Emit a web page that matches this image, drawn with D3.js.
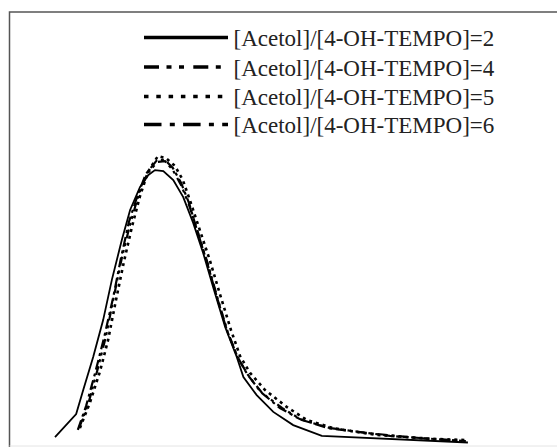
<!DOCTYPE html>
<html lang="en">
  <head>
    <meta charset="UTF-8" />
    <title>Acetol / 4-OH-TEMPO profiles</title>
    <style>
      body { margin: 0; background: white; }
      svg { display: block; }
    </style>
  </head>
  <body>
    <svg></svg>
    <script src="https://d3js.org/d3.v7.min.js"></script>
    <script>
      // values (arbitrary units, no axes shown)
      const labels = [
        "[Acetol]/[4-OH-TEMPO]=2",
        "[Acetol]/[4-OH-TEMPO]=4",
        "[Acetol]/[4-OH-TEMPO]=5",
        "[Acetol]/[4-OH-TEMPO]=6",
      ];

      const x2 = [0, 5.1, 6.8, 9.2, 11.6, 13.7, 16.1, 18.1, 20.5, 22.5, 24.1, 26.1, 28.5, 30.9, 33.3, 35.7, 38.1, 41.0, 43.8, 45.4, 48.6, 52.6, 57.4, 64.3, 99.5];
      const y2 = [3.3, 11, 19, 30, 42.3, 55.7, 69, 79, 86.7, 90.7, 92.3, 92, 89, 83.3, 74.7, 64.7, 53.3, 40, 30, 23.3, 17.3, 11.7, 7.3, 3.7, 1.5];

      const x4 = [5.8, 8.0, 10.1, 12.3, 14.2, 16.1, 18.1, 20.2, 22.2, 24.6, 26.5, 28.4, 30.4, 32.3, 34.5, 36.9, 39.3, 41.7, 44.1, 46.5, 49.9, 54.7, 59.5, 66.3, 73.5, 80.7, 88.0, 95.2, 99.0];
      const y4 = [6.3, 14.3, 25, 37, 50.3, 63, 74.3, 84.3, 91, 95, 95.3, 92.3, 87.3, 80.7, 71.3, 60.7, 49, 38, 29.7, 24, 18, 13, 9, 6.3, 5, 3.7, 3, 2.3, 2];

      const x5 = [6.0, 8.4, 10.8, 12.8, 14.7, 16.6, 18.6, 20.5, 22.4, 24.8, 26.7, 28.9, 30.8, 32.5, 34.9, 37.3, 39.8, 42.4, 44.6, 47.0, 50.6, 55.9, 60.7, 67.0, 72.8, 77.6, 84.8, 91.1, 99.5];
      const y5 = [6.3, 14.7, 25, 35.7, 49, 61.7, 73.7, 83.7, 91.7, 97, 96.3, 93.7, 89, 82.3, 72.3, 62.3, 50.7, 39, 30.3, 24.7, 19, 13.3, 9, 6.3, 5, 4, 3.3, 2.7, 2.3];

      const x6 = [5.5, 7.5, 9.6, 11.8, 14.0, 15.9, 17.8, 20.0, 21.9, 24.6, 26.5, 28.4, 30.4, 32.3, 34.2, 36.6, 39.0, 41.4, 43.9, 46.3, 49.6, 54.2, 59.0, 65.8, 73.0, 80.2, 87.5, 94.7, 99.0];
      const y6 = [5.7, 13.7, 24.3, 36.3, 49.7, 63, 75, 84.3, 91, 95.7, 95.7, 93, 88, 81.3, 72.3, 61.7, 50, 39, 30.3, 24.3, 18.3, 13, 9.3, 6.3, 5, 4, 3, 2.3, 2];

      const series = [
        { label: labels[0], xs: x2, ys: y2, dash: null, legendDash: null, w: 1.8 },
        { label: labels[1], xs: x4, ys: y4, dash: "9,4,3,4,3,5", legendDash: "15,7.5,5,7.5,5,9.3", w: 2.2 },
        { label: labels[2], xs: x5, ys: y5, dash: "3,4", legendDash: "4.5,7.8", w: 2.6 },
        { label: labels[3], xs: x6, ys: y6, dash: "10,4,3,4", legendDash: "17.5,8.3,5,8.3", w: 2.2 },
      ];

      const width = 557;
      const height = 447;

      const svg = d3.select("svg").attr("width", width).attr("height", height);

      const x = d3.scaleLinear().domain([0, 100]).range([55, 470]);
      const y = d3.scaleLinear().domain([0, 100]).range([447, 147]);

      // frame (left and top visible, bottom faint)
      svg.append("path")
        .attr("d", "M9.5,447 V12 H557")
        .attr("fill", "none")
        .attr("stroke", "#555")
        .attr("stroke-width", 1.5);
      svg.append("line")
        .attr("x1", 9.5).attr("x2", width)
        .attr("y1", 446).attr("y2", 446)
        .attr("stroke", "#e4e4e4");

      const line = d3.line()
        .x((d) => x(d[0]))
        .y((d) => y(d[1]));

      // dashed ones first, solid on top
      [1, 3, 2, 0].forEach((i) => {
        const s = series[i];
        svg.append("path")
          .datum(d3.zip(s.xs, s.ys))
          .attr("d", line)
          .attr("fill", "none")
          .attr("stroke", "black")
          .attr("stroke-width", s.w)
          .attr("stroke-dasharray", s.dash);
      });

      const legend = svg.append("g");
      const rowBase = [46, 75.5, 105, 133];

      series.forEach((s, i) => {
        const g = legend.append("g").attr("transform", `translate(0,${rowBase[i]})`);
        g.append("line")
          .attr("x1", 144).attr("x2", 228)
          .attr("y1", -8.5).attr("y2", -8.5)
          .attr("stroke", "black")
          .attr("stroke-width", 3.3)
          .attr("stroke-dasharray", s.legendDash);
        g.append("text")
          .attr("x", 233.5)
          .attr("y", 0)
          .style("font-family", "'Liberation Serif', serif")
          .style("font-size", "23px")
          .attr("fill", "#222")
          .text(s.label);
      });
    </script>
  </body>
</html>
